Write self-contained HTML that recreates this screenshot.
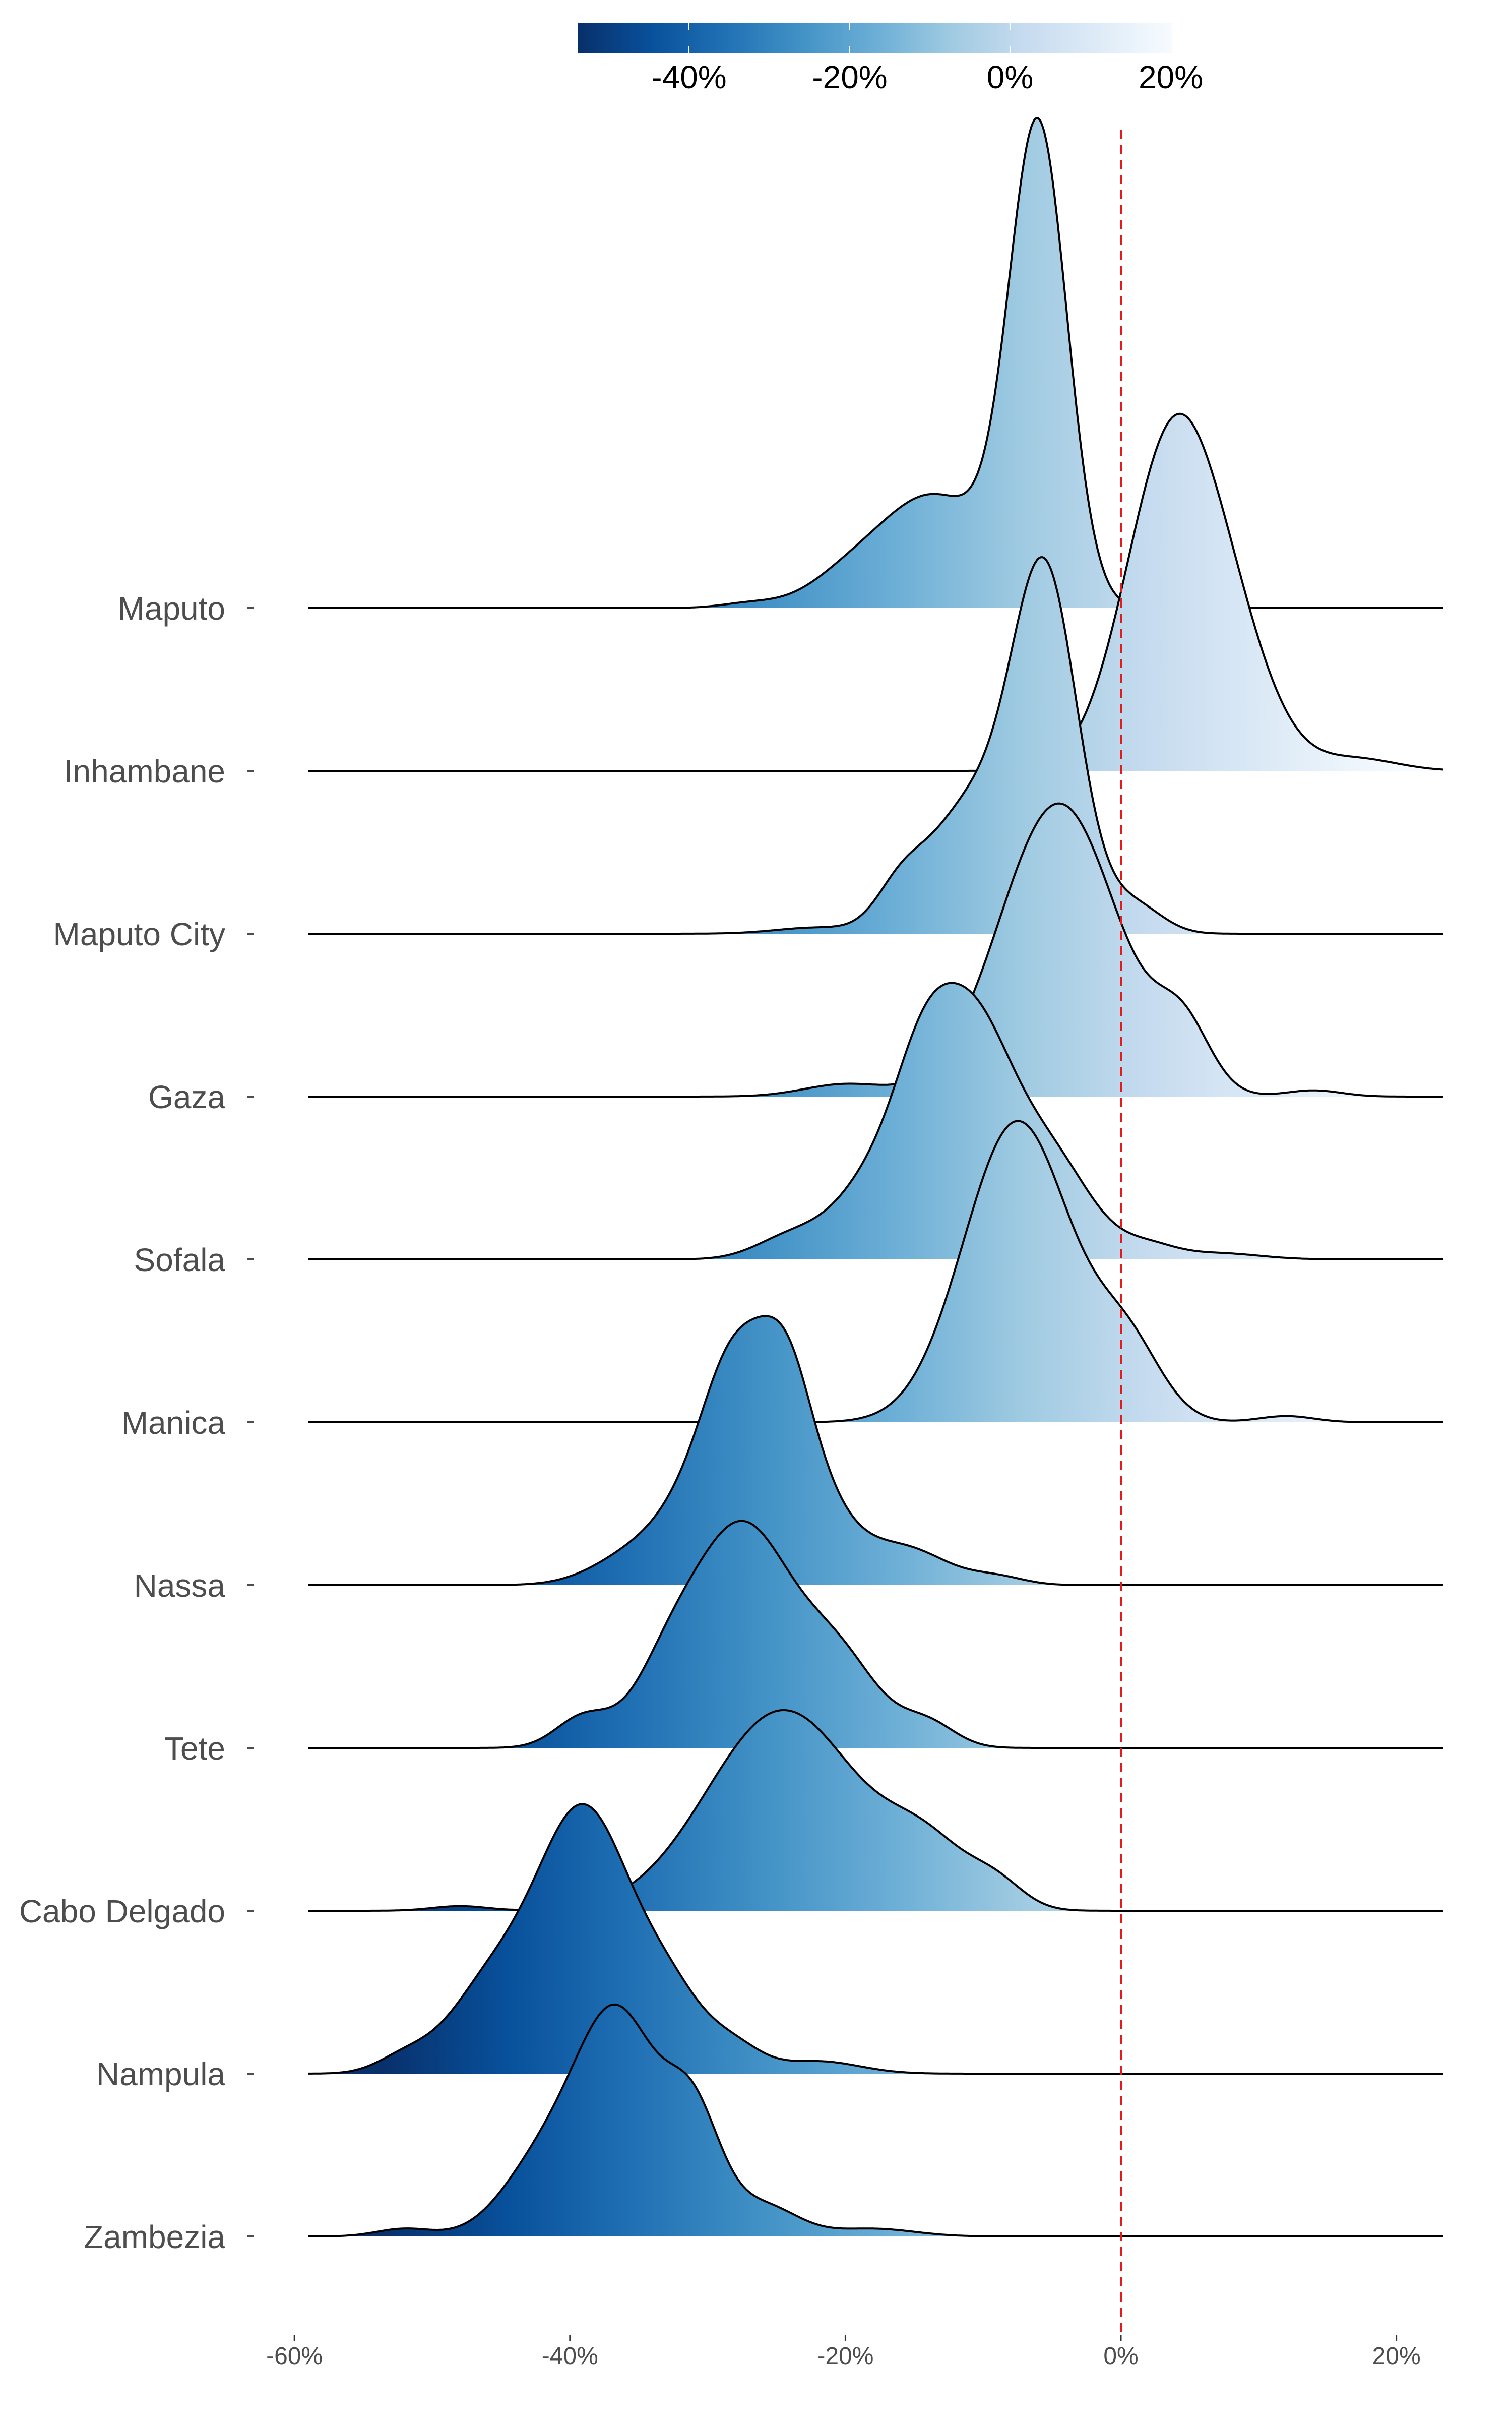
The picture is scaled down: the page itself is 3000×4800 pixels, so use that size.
<!DOCTYPE html>
<html><head><meta charset="utf-8"><style>
html,body{margin:0;padding:0;background:#fff;}
svg{display:block;}
</style></head><body>
<svg id="s" width="3000" height="4800" xmlns="http://www.w3.org/2000/svg" font-family="'Liberation Sans', Arial, sans-serif">
<defs>
<linearGradient id="g" gradientUnits="userSpaceOnUse" x1="756" y1="0" x2="2784" y2="0">
<stop offset="0" stop-color="#08306b"/><stop offset="0.125" stop-color="#08519c"/><stop offset="0.25" stop-color="#2171b5"/><stop offset="0.375" stop-color="#4292c6"/><stop offset="0.5" stop-color="#6baed6"/><stop offset="0.625" stop-color="#9ecae1"/><stop offset="0.75" stop-color="#c6dbef"/><stop offset="0.875" stop-color="#deebf7"/><stop offset="1" stop-color="#f7fbff"/>
</linearGradient>
<linearGradient id="cb" x1="0" y1="0" x2="1" y2="0">
<stop offset="0" stop-color="#08306b"/><stop offset="0.125" stop-color="#08519c"/><stop offset="0.25" stop-color="#2171b5"/><stop offset="0.375" stop-color="#4292c6"/><stop offset="0.5" stop-color="#6baed6"/><stop offset="0.625" stop-color="#9ecae1"/><stop offset="0.75" stop-color="#c6dbef"/><stop offset="0.875" stop-color="#deebf7"/><stop offset="1" stop-color="#f7fbff"/>
</linearGradient>
</defs>
<rect x="1147" y="46" width="1178" height="59" fill="url(#cb)"/>
<g stroke="#fff" stroke-width="2">
<line x1="1367" y1="46" x2="1367" y2="60"/><line x1="1367" y1="91" x2="1367" y2="105"/>
<line x1="1686" y1="46" x2="1686" y2="60"/><line x1="1686" y1="91" x2="1686" y2="105"/>
<line x1="2004" y1="46" x2="2004" y2="60"/><line x1="2004" y1="91" x2="2004" y2="105"/>
</g>
<g font-size="64" fill="#000" text-anchor="middle">
<text x="1367" y="175">-40%</text><text x="1686" y="175">-20%</text><text x="2004" y="175">0%</text><text x="2323" y="175">20%</text>
</g>
<g id="ridges"></g>
<line x1="2224" y1="257" x2="2224" y2="4632" stroke="#e41a1c" stroke-width="4" stroke-dasharray="18,12"/>
<g id="labels" font-size="64" fill="#4d4d4d" text-anchor="end"></g>
<g font-size="48" fill="#4d4d4d" text-anchor="middle" id="xt"></g>
</svg>
<script>
var NS="http://www.w3.org/2000/svg";
function X(p){return 2224+27.33*p;}
var data=[
["Maputo",[[-6,2.1,305],[-13.5,4,72],[-20,3,15],[-27,2,3]]],
["Inhambane",[[3.8,3.4,215],[8.5,3,50],[17,3,8]]],
["Maputo City",[[-5.5,2.4,228],[-11,3,80],[-16,1.8,25],[-22,3,4],[1,2,18]]],
["Gaza",[[-4.5,4.3,190],[4.5,2,40],[-20,3,8],[14,2,4]]],
["Sofala",[[-11,3,150],[-14.5,2,50],[-5,3,60],[-17.5,3,55],[-24,2.5,14],[2,2,8],[7,3,4]]],
["Manica",[[-7.5,3.9,195],[0.5,2.5,45],[12,2,4]]],
["Nassa",[[-26.5,4,165],[-24,1.5,22],[-29,1.5,10],[-35.5,3,16],[-15.5,3,22],[-9,2,5]]],
["Tete",[[-27.5,3.5,140],[-33,2.5,40],[-20.5,3,55],[-39,2,20],[-14,2,15]]],
["Cabo Delgado",[[-24.5,5.5,130],[-14,3,35],[-9,2,15],[-48,2,3]]],
["Nampula",[[-39,3.5,170],[-46,3,50],[-32.5,2.5,40],[-28,2,15],[-22,3,8],[-52,2,10]]],
["Zambezia",[[-36.5,3,140],[-31,2,70],[-42,3,45],[-26,2.5,20],[-52,2,5],[-18,3,5]]]
];
var g=document.getElementById("ridges"),L=document.getElementById("labels");
data.forEach(function(d,i){
 var by=1206+i*323, pts=[];
 for(var p=-59;p<=23.5;p+=0.1){
  var h=0;d[1].forEach(function(c){h+=c[2]*Math.exp(-0.5*Math.pow((p-c[0])/c[1],2));});
  pts.push(X(p).toFixed(1)+","+(by-h*3.06).toFixed(1));
 }
 var path=document.createElementNS(NS,"path");
 path.setAttribute("d","M"+X(-59)+","+by+" L"+pts.join(" L")+" L"+X(23.5)+","+by+" Z");
 path.setAttribute("fill","url(#g)");path.setAttribute("stroke","none");
 g.appendChild(path);
 var pl=document.createElementNS(NS,"polyline");
 pl.setAttribute("points",pts.join(" "));pl.setAttribute("fill","none");
 pl.setAttribute("stroke","#000");pl.setAttribute("stroke-width","4");pl.setAttribute("stroke-linejoin","round");
 g.appendChild(pl);
 var t=document.createElementNS(NS,"text");t.setAttribute("x","447");t.setAttribute("y",by+23);t.textContent=d[0];L.appendChild(t);
 var tk=document.createElementNS(NS,"line");tk.setAttribute("x1","491");tk.setAttribute("x2","503");tk.setAttribute("y1",by);tk.setAttribute("y2",by);tk.setAttribute("stroke","#4d4d4d");tk.setAttribute("stroke-width","4");L.appendChild(tk);
});
var xt=document.getElementById("xt");
[-60,-40,-20,0,20].forEach(function(v){
 var x=X(v);
 var l=document.createElementNS(NS,"line");l.setAttribute("x1",x);l.setAttribute("x2",x);l.setAttribute("y1","4632");l.setAttribute("y2","4643");l.setAttribute("stroke","#333");l.setAttribute("stroke-width","3");xt.appendChild(l);
 var t=document.createElementNS(NS,"text");t.setAttribute("x",x);t.setAttribute("y","4689");t.textContent=v+"%";xt.appendChild(t);
});
</script>
</body></html>
